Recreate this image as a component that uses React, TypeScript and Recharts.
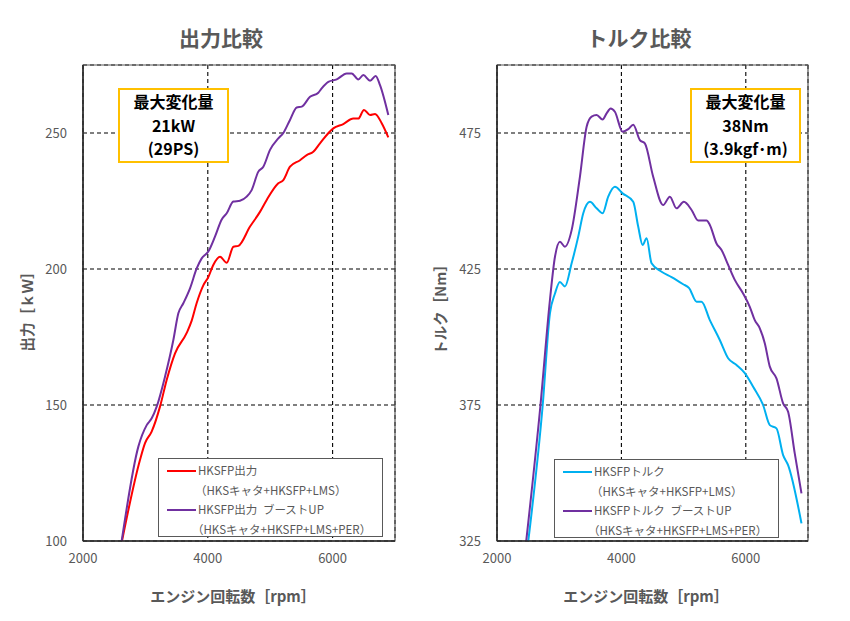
import {
  CartesianGrid,
  Legend,
  Line,
  LineChart,
  ReferenceArea,
  XAxis,
  YAxis,
} from "recharts";

const FONT = '"Noto Sans CJK JP", "Noto Sans", sans-serif';
const GRAY = "#595959";

const rpmTicks = [2000, 4000, 6000];
const powerTicks = [100, 150, 200, 250];
const torqueTicks = [325, 375, 425, 475];

// 出力 (kW)
const rpmPowerBase = [2625, 2913, 2994, 3100, 3234, 3341, 3475, 3662, 3742, 3822, 3928, 4008, 4088, 4196, 4303, 4410, 4490, 4677, 4836, 4944, 5130, 5210, 5317, 5478, 5585, 5691, 5798, 6011, 6171, 6332, 6412, 6503, 6600, 6680, 6787, 6893];
const powerBase = [100, 129.8, 136, 140.2, 149.4, 159.2, 169, 176.5, 181, 187.5, 194, 197, 201.5, 204.5, 202.3, 208.2, 208.5, 215.6, 221, 225.4, 231.5, 232.7, 237.6, 240, 241.9, 243.1, 246.2, 251.7, 253.3, 255.3, 255.3, 258.5, 256.6, 257, 253.6, 248.4];

const rpmPowerBoost = [2620, 2887, 3021, 3101, 3181, 3314, 3448, 3528, 3608, 3715, 3822, 3902, 4008, 4115, 4223, 4303, 4410, 4516, 4623, 4703, 4810, 4890, 4997, 5130, 5210, 5317, 5425, 5505, 5638, 5771, 5825, 5932, 6066, 6226, 6306, 6412, 6492, 6600, 6690, 6760, 6893];
const powerBoost = [100, 134.7, 142.6, 145.1, 149.4, 160.4, 173.9, 183.7, 187.4, 192.9, 200.2, 203.9, 206.4, 211.9, 218.2, 220.5, 224.8, 225.1, 226.6, 229, 235.8, 237.6, 243.8, 248, 250, 254.8, 259.4, 259.7, 263.3, 264.8, 266.4, 268.8, 269.7, 271.9, 271.9, 269.7, 271.3, 269.2, 271, 267.6, 256.6];

// トルク (Nm)
const rpmTorqueBase = [2503, 2735, 2851, 2932, 3012, 3092, 3200, 3306, 3387, 3494, 3602, 3698, 3788, 3895, 4019, 4190, 4270, 4341, 4405, 4485, 4646, 4806, 4993, 5089, 5208, 5288, 5422, 5582, 5716, 5851, 5984, 6118, 6278, 6386, 6493, 6600, 6680, 6895];
const torqueBase = [325, 375, 408.7, 416, 420.2, 418.6, 427.1, 436.9, 445.5, 449.7, 447.3, 445.5, 451.6, 455.2, 452.8, 449.7, 440.6, 433.8, 436.3, 427.1, 424, 422, 419.4, 418, 413, 413, 406.2, 398.9, 392.2, 389.7, 386.7, 381.7, 375, 367.6, 366.4, 356.6, 352.9, 331.5];

const rpmTorqueBoost = [2470, 2699, 2851, 2932, 3012, 3092, 3200, 3333, 3441, 3521, 3602, 3698, 3762, 3827, 3895, 4019, 4110, 4190, 4297, 4377, 4511, 4671, 4779, 4886, 5004, 5128, 5234, 5369, 5422, 5529, 5610, 5716, 5823, 5957, 6064, 6144, 6225, 6305, 6386, 6493, 6600, 6680, 6787, 6895];
const torqueBoost = [325, 375, 413.6, 429.5, 435, 433.2, 439.3, 458.9, 477.3, 481, 481.6, 480, 482.2, 484, 482.8, 475.5, 476.4, 478, 472.4, 471.2, 458.9, 448.5, 451.6, 447.3, 449.7, 446.7, 442.8, 442.8, 441.2, 434.4, 432, 426.5, 421, 416, 411.1, 406.2, 403.2, 397.7, 389.1, 384.8, 375.6, 372.5, 357.2, 342.5];

const toRows = (rpm: number[], vals: number[]) =>
  rpm.map((r, i) => ({ rpm: r, value: vals[i] }));

interface Series {
  name: string;
  sub: string;
  color: string;
  rows: Array<{ rpm: number; value: number }>;
}

const powerSeries: Series[] = [
  { name: "HKSFP出力", sub: "（HKSキャタ+HKSFP+LMS）", color: "#FF0000", rows: toRows(rpmPowerBase, powerBase) },
  { name: "HKSFP出力\u2002ブーストUP", sub: "（HKSキャタ+HKSFP+LMS+PER）", color: "#7030A0", rows: toRows(rpmPowerBoost, powerBoost) },
];

const torqueSeries: Series[] = [
  { name: "HKSFPトルク", sub: "（HKSキャタ+HKSFP+LMS）", color: "#00B0F0", rows: toRows(rpmTorqueBase, torqueBase) },
  { name: "HKSFPトルク\u2002ブーストUP", sub: "（HKSキャタ+HKSFP+LMS+PER）", color: "#7030A0", rows: toRows(rpmTorqueBoost, torqueBoost) },
];

function LegendBox({ series }: { series: Series[] }) {
  const row = { height: 19.7, lineHeight: "19.7px", whiteSpace: "nowrap" as const };
  return (
    <div
      style={{
        width: 225,
        height: 79,
        boxSizing: "border-box",
        border: `1px solid ${GRAY}`,
        background: "#fff",
        paddingTop: 2,
        fontFamily: FONT,
        fontSize: 11.5,
        color: GRAY,
      }}
    >
      {series.map((s, i) => (
        <div key={s.name}>
          <div style={{ ...row, display: "flex", alignItems: "center" }}>
            <span style={{ display: "inline-block", width: 29, height: 2.5, background: s.color, marginLeft: 8, marginRight: 2 }} />
            <span>{s.name}</span>
          </div>
          <div style={{ ...row, paddingLeft: i === 0 ? 36 : 33 }}>{s.sub}</div>
        </div>
      ))}
    </div>
  );
}

interface PanelProps {
  width: number;
  yWidth: number;
  right: number;
  domain: [number, number];
  ticks: number[];
  series: Series[];
  legendLeft: number;
  legendTop: number;
}

function Panel({ width, yWidth, right, domain, ticks, series, legendLeft, legendTop }: PanelProps) {
  return (
    <LineChart width={width} height={621} margin={{ top: 65, right, bottom: 50, left: 0 }}>
      <CartesianGrid stroke="#000" strokeDasharray="4 3" strokeWidth={1.1} />
      <XAxis
        type="number"
        dataKey="rpm"
        domain={[2000, 7000]}
        ticks={rpmTicks}
        allowDataOverflow
        tickLine={false}
        tickMargin={7}
        axisLine={{ stroke: "#262626", strokeWidth: 1.5 }}
        tick={{ fontSize: 13, fill: GRAY, fontFamily: FONT }}
      />
      <YAxis
        type="number"
        width={yWidth}
        domain={domain}
        ticks={ticks}
        allowDataOverflow
        tickLine={false}
        tickMargin={10}
        axisLine={{ stroke: "#262626", strokeWidth: 1.5 }}
        tick={{ fontSize: 13, fill: GRAY, fontFamily: FONT }}
      />
      <ReferenceArea
        x1={2000}
        x2={7000}
        y1={domain[0]}
        y2={domain[1]}
        fill="none"
        stroke={GRAY}
        strokeWidth={1.2}
      />
      {series.map((s) => (
        <Line
          key={s.name}
          data={s.rows}
          dataKey="value"
          name={s.name}
          type="monotone"
          stroke={s.color}
          strokeWidth={2}
          dot={false}
          isAnimationActive={false}
        />
      ))}
      <Legend
        layout="vertical"
        align="center"
        verticalAlign="middle"
        wrapperStyle={{ left: legendLeft, top: legendTop, width: 225 }}
        content={() => <LegendBox series={series} />}
      />
    </LineChart>
  );
}

const abs = (style: React.CSSProperties): React.CSSProperties => ({ position: "absolute", fontFamily: FONT, ...style });

function NoteBox({ left, lines }: { left: number; lines: string[] }) {
  return (
    <div
      style={abs({
        left,
        top: 88,
        width: 111,
        height: 75,
        boxSizing: "border-box",
        border: "2px solid #FFC000",
        background: "#fff",
        display: "flex",
        flexDirection: "column",
        justifyContent: "center",
        alignItems: "center",
        fontSize: 16,
        fontWeight: 700,
        lineHeight: "23.5px",
        color: "#000",
      })}
    >
      {lines.map((l) => (
        <div key={l}>{l}</div>
      ))}
    </div>
  );
}

export default function App() {
  const title = { fontSize: 21, fontWeight: 700, color: GRAY, top: 23, lineHeight: "28px", textAlign: "center" as const, width: 200 };
  const xLabel = { fontSize: 15, fontWeight: 700, color: GRAY, top: 585, lineHeight: "22px", textAlign: "center" as const, width: 240 };
  const yLabel = { fontSize: 14.5, fontWeight: 700, color: GRAY, width: 140, lineHeight: "20px", textAlign: "center" as const, transform: "rotate(-90deg)" };
  return (
    <div style={{ position: "absolute", left: 0, top: 0, width: 850, height: 621, background: "#fff", overflow: "hidden" }}>
      <div style={abs({ left: 0, top: 0 })}>
        <Panel width={420} yWidth={83} right={25} domain={[100, 275]} ticks={powerTicks} series={powerSeries} legendLeft={158} legendTop={458} />
      </div>
      <div style={abs({ left: 420, top: 0 })}>
        <Panel width={430} yWidth={77} right={42} domain={[325, 500]} ticks={torqueTicks} series={torqueSeries} legendLeft={134} legendTop={459} />
      </div>
      <div style={abs({ ...title, left: 121 })}>出力比較</div>
      <div style={abs({ ...title, left: 539 })}>トルク比較</div>
      <div style={abs({ ...xLabel, left: 113 })}>エンジン回転数［rpm］</div>
      <div style={abs({ ...xLabel, left: 526 })}>エンジン回転数［rpm］</div>
      <div style={abs({ ...yLabel, left: 27 - 70, top: 308 - 10 })}>出力［ｋＷ］</div>
      <div style={abs({ ...yLabel, left: 440 - 70, top: 306 - 10 })}>トルク［Nm］</div>
      <NoteBox left={118} lines={["最大変化量", "21kW", "(29PS)"]} />
      <NoteBox left={690} lines={["最大変化量", "38Nm", "(3.9kgf･m)"]} />
    </div>
  );
}
